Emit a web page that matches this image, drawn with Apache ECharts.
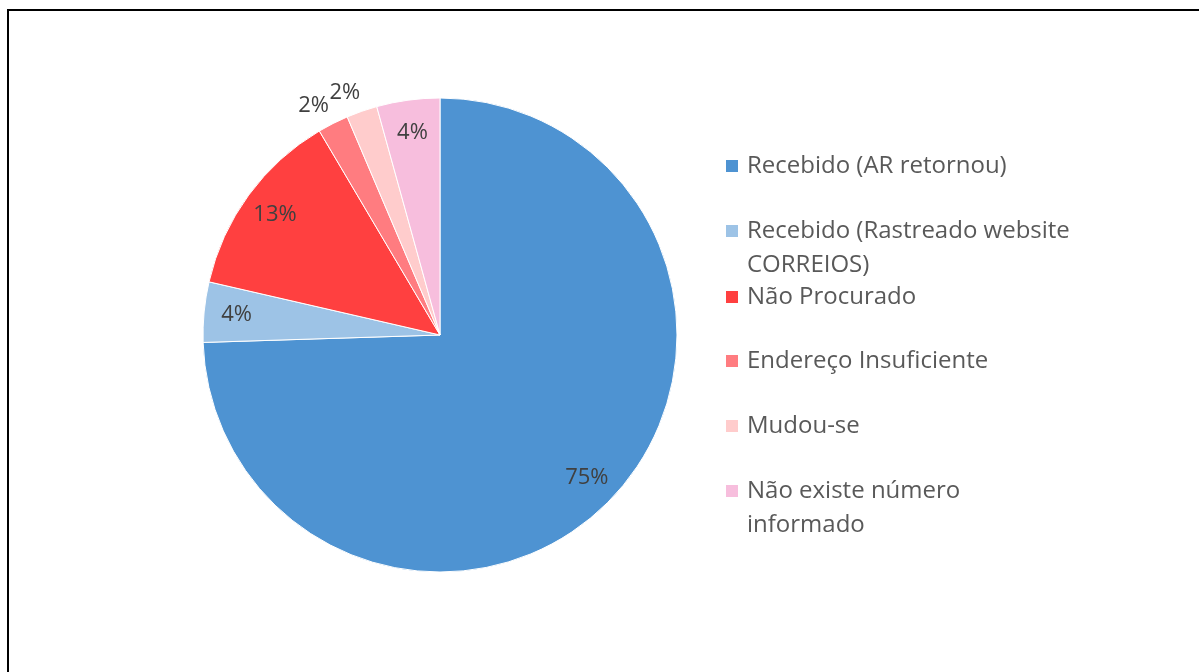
<!DOCTYPE html>
<html>
<head>
<meta charset="utf-8">
<script src="https://cdn.jsdelivr.net/npm/echarts@6/dist/echarts.min.js"></script>
<style>
  html, body { margin: 0; padding: 0; background: #fff; }
  #frame { position: absolute; left: 7px; top: 9px; width: 1300px; height: 800px; border: 2px solid #000; }
  #chart { position: absolute; left: 0; top: 0; width: 1199px; height: 672px; }
</style>
</head>
<body>
<div id="frame"></div>
<div id="chart"></div>
<script>
// categorias e valores (%)
var categories = ['Recebido (AR retornou)', 'Recebido (Rastreado website CORREIOS)', 'Não Procurado',
                  'Endereço Insuficiente', 'Mudou-se', 'Não existe número informado'];
var values = [74.5, 4.1, 12.9, 2.1, 2.1, 4.3];
var legendText = ['Recebido (AR retornou)', 'Recebido (Rastreado website\nCORREIOS)', 'Não Procurado',
                  'Endereço Insuficiente', 'Mudou-se', 'Não existe número\ninformado'];
var colors = ['#4E93D2', '#9DC3E6', '#FF4040', '#FF7C80', '#FFCCCC', '#F7BEDD'];

var FONT = 'Open Sans';
var cx = 440, cy = 335, R = 237;
var legendCenters = [165, 230, 296, 360, 425, 490];
var LINE = 34;

var chart = echarts.init(document.getElementById('chart'));

var pieData = categories.map(function (c, i) {
  return { name: c, value: values[i] };
});
var labelData = categories.map(function (c, i) {
  var small = values[i] < 3;
  return {
    name: c, value: values[i],
    label: { position: small ? 'outside' : 'inside' },
    labelLine: { show: false, length: 20, length2: 0 }
  };
});

// uma legenda por linha de texto; a 2a linha fica sem icone (Excel alinha o icone na 1a linha)
var legends = [];
categories.forEach(function (c, i) {
  legendText[i].split('\n').forEach(function (line, k) {
    var lg = {
      data: [c],
      orient: 'vertical',
      left: 719,
      top: legendCenters[i] + k * LINE - LINE / 2 - 4,
      icon: 'rect',
      itemWidth: 14,
      itemHeight: 14,
      selectedMode: false,
      formatter: function () { return line; },
      textStyle: {
        fontFamily: FONT, fontSize: 24, color: '#595959', lineHeight: LINE,
        padding: [0, 0, 0, 3]
      }
    };
    if (k > 0) lg.itemStyle = { opacity: 0 };
    legends.push(lg);
  });
});

chart.setOption({
  animation: false,
  color: colors,
  legend: legends,
  series: [
    {
      type: 'pie',
      center: [cx, cy],
      radius: [0, R],
      startAngle: 90,
      clockwise: true,
      data: pieData,
      label: { show: false },
      labelLine: { show: false },
      itemStyle: { borderColor: '#fff', borderWidth: 1 },
      emphasis: { disabled: true }
    },
    {
      type: 'pie',
      center: [cx, cy],
      radius: [R * 0.7, R],
      startAngle: 90,
      clockwise: true,
      silent: true,
      avoidLabelOverlap: false,
      data: labelData,
      itemStyle: { color: 'rgba(0,0,0,0)' },
      label: {
        show: true,
        fontFamily: FONT, fontSize: 22, color: '#404040',
        distanceToLabelLine: -5,
        formatter: function (p) { return Math.round(p.percent) + '%'; }
      },
      emphasis: { disabled: true }
    }
  ]
});
</script>
</body>
</html>
